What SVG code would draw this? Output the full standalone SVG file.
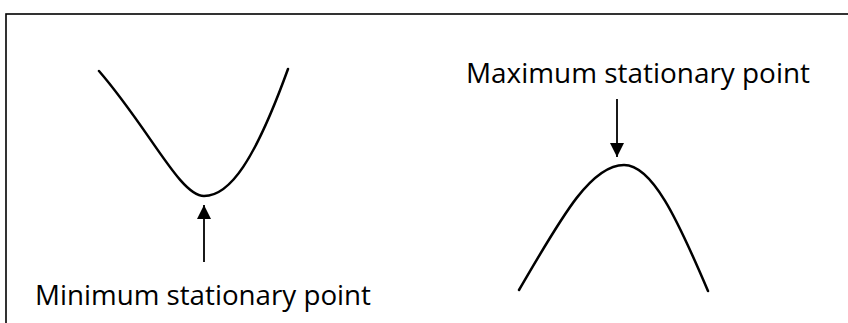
<svg xmlns="http://www.w3.org/2000/svg" width="848" height="323" viewBox="0 0 848 323">
<defs>
<style>
.curve{fill:none;stroke:#000;stroke-width:2.5;stroke-linecap:round}
.conn{fill:none;stroke:#000;stroke-width:1.8}
.lbl{font-family:"Open Sans","Liberation Sans",sans-serif;font-size:28px;fill:#000}
</style>
<marker id="ah" viewBox="0 0 10 10" refX="10" refY="5" markerWidth="16" markerHeight="14" markerUnits="userSpaceOnUse" orient="auto">
<path d="M0,0 L10,5 L0,10 Z" fill="#000"/>
</marker>
</defs>
<rect width="848" height="323" fill="#fff"/>
<rect id="frame" x="6" y="14" width="900" height="400" fill="none" stroke="#000" stroke-width="1.6"/>
<g id="min-curve">
<path class="curve" d="M99,71 C150,130 180,196 204,196 C230,196 255,160 288,69"/>
</g>
<g id="max-curve">
<path class="curve" d="M519,290 C560,220 590,165 624,165 C652,165 677,218 708,291"/>
</g>
<g id="min-label">
<text class="lbl" x="35" y="305" textLength="336" lengthAdjust="spacingAndGlyphs">Minimum stationary point</text>
</g>
<g id="max-label">
<text class="lbl" x="466" y="83" textLength="344" lengthAdjust="spacingAndGlyphs">Maximum stationary point</text>
</g>
<g id="connectors">
<line class="conn" x1="204" y1="262" x2="204" y2="205" marker-end="url(#ah)"/>
<line class="conn" x1="617" y1="99" x2="617" y2="157" marker-end="url(#ah)"/>
</g>
</svg>
